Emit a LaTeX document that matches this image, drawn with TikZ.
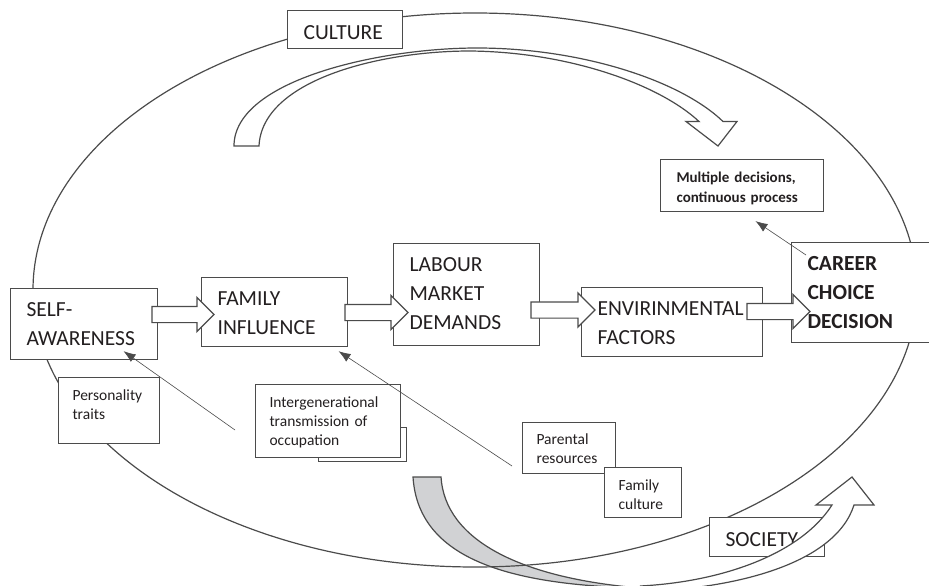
\documentclass[tikz,border=0pt]{standalone}
\usepackage{fontspec}
\setmainfont{Carlito}
\usepackage{tikz}
\usetikzlibrary{shapes.arrows, arrows.meta}
\definecolor{linegray}{RGB}{75,75,75}
\definecolor{textgray}{RGB}{35,31,32}
\definecolor{ribbongray}{RGB}{209,210,212}
\newcommand{\bigtext}{\fontsize{21.5}{29}\selectfont}
\newcommand{\smalltext}{\fontsize{15.5}{19}\selectfont}
\tikzstyle{mainbox} = [rectangle, draw=linegray, fill=white, line width=1.2pt, text=textgray, anchor=north west, align=left, inner xsep=16pt, inner ysep=14pt, text height=14pt, font=\bigtext]
\tikzstyle{ringlabel} = [mainbox, inner ysep=0pt, text height=29pt, text depth=9pt]
\tikzstyle{smallbox} = [rectangle, draw=linegray, fill=white, line width=1.1pt, text=textgray, anchor=north west, align=left, inner xsep=14pt, inner ysep=11pt, text height=11.5pt, font=\smalltext]
\tikzstyle{backbox} = [rectangle, draw=linegray, fill=white, line width=1.1pt, anchor=north west, inner sep=0pt]
\tikzstyle{blockarrow} = [single arrow, draw=linegray, fill=white, line width=1.2pt, minimum height=63pt, inner xsep=0pt, inner ysep=7.5pt, single arrow head extend=9pt]
\tikzstyle{ribbon} = [draw=linegray, line width=1.2pt, line join=miter]
\tikzstyle{pointer} = [draw=linegray, line width=0.6pt, -{Latex[length=12pt,width=9pt]}]

\begin{document}
\begin{tikzpicture}[x=1pt, y=-1pt]
\useasboundingbox (0,0) rectangle (929,586);
% back of the society ribbon
\draw [ribbon, fill=ribbongray] (413,477) .. controls (418,555) and (500,585) .. (640,588) .. controls (520,578) and (445,540) .. (441,477) -- cycle;
% the ring
\draw [draw=linegray, line width=1.2pt] (475,290) ellipse [x radius=442, y radius=277];
% culture arrow
\draw [ribbon, fill=white] (234,146) .. controls (234,80) and (380,48) .. (477,48) .. controls (580,48) and (680,80) .. (723,121.5) -- (737,121.5) -- (718,146) -- (686,121.5) -- (699,121.5) .. controls (660,85) and (570,52) .. (470,51) .. controls (380,51) and (262,80) .. (259,146) -- cycle;

\node (culture) [ringlabel, text width=83pt] at (287,10) {CULTURE};
\node (self) [mainbox, text width=115pt, text depth=29pt] at (10,288) {SELF-\\AWARENESS};
\node (family) [mainbox, text width=114pt, text depth=27pt] at (201,277) {FAMILY\\INFLUENCE};
\node (labour) [mainbox, text width=114pt, text depth=60pt] at (393,243) {LABOUR\\MARKET\\DEMANDS};
\node (envir) [mainbox, text width=149pt, text depth=27pt] at (581,287) {ENVIRINMENTAL\\FACTORS};
\node (career) [mainbox, text width=113pt, text depth=58pt, font=\bigtext\bfseries] at (791,242) {CAREER\\CHOICE\\DECISION};
\node (multi) [smallbox, inner xsep=16pt, text width=131pt, text height=12pt, text depth=18pt, font=\fontsize{15}{20}\selectfont\bfseries] at (660,159) {Multiple decisions,\\continuous process};
\node (traits) [smallbox, text width=73pt, text depth=32.5pt] at (58,377) {Personality\\traits};
\node (transmback) [backbox, minimum width=88pt, minimum height=34pt] at (318,427) {};
\node (transm) [smallbox, text width=117pt, text depth=39.5pt] at (255,384) {Intergenerational\\transmission of\\occupation};
\node (parres) [smallbox, text width=64.5pt, text depth=18pt] at (522,421.5) {Parental\\resources};
\node (famcult) [smallbox, text width=49pt, text depth=16.5pt] at (604,467) {Family\\culture};
\node (society) [ringlabel, text width=83pt, text depth=10pt] at (709,517) {SOCIETY};

\node (selffam) [blockarrow, minimum height=62pt] at (179,314.5) {};
\node (famlab) [blockarrow] at (372.5,312.5) {};
\node (labenv) [blockarrow, minimum height=64pt] at (559,310) {};
\node (envcar) [blockarrow] at (774.5,311.5) {};

\coordinate (traitsend) at (235,430);
\coordinate (parresend) at (512,466);
\draw [pointer] (traitsend) -- ([shift={(39.5,-9)}]self.south);
\draw [pointer] (parresend) -- ([shift={(64,4)}]family.south);
\draw [pointer] ([shift={(15,13)}]career.north west) -- ([shift={(13.5,9)}]multi.south);

% front of the society ribbon
\fill [white] (620,592) .. controls (730,592) and (835,565) .. (854,505) -- (874,505) -- (852,477) -- (816,505) -- (832,505) .. controls (800,555) and (720,582) .. (640,586) -- cycle;
\draw [ribbon] (620,592) .. controls (730,592) and (835,565) .. (854,505) -- (874,505) -- (852,477) -- (816,505) -- (832,505) .. controls (800,555) and (720,582) .. (640,586);
\end{tikzpicture}
\end{document}
